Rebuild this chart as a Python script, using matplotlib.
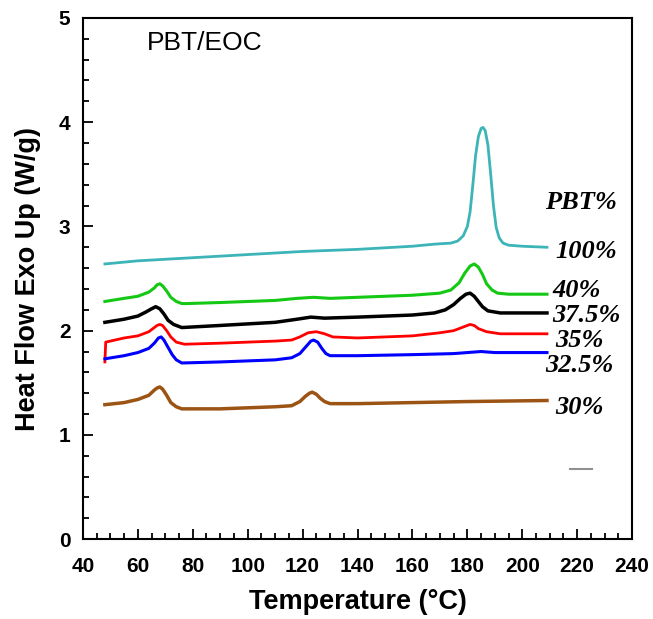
import matplotlib
matplotlib.use('Agg')
import matplotlib.pyplot as plt
from matplotlib.ticker import MultipleLocator

# DSC cooling curves (temperature in C, heat flow in W/g)
t_100 = [48, 60, 80, 100, 120, 140, 160, 168, 174, 176.5, 178.5, 180, 181, 182, 183, 184, 185, 185.7,
         186.5, 187.5, 188.5, 189.5, 190.5, 191.6, 193, 195, 200, 209]
hf_100 = [2.64, 2.67, 2.70, 2.73, 2.76, 2.78, 2.81, 2.83, 2.84, 2.86, 2.91, 3.00, 3.14, 3.40, 3.68, 3.86, 3.94, 3.95,
          3.92, 3.78, 3.50, 3.20, 2.99, 2.89, 2.84, 2.82, 2.81, 2.80]

t_40 = [48, 55, 60, 64, 66, 67, 68, 69, 70.5, 72, 74, 76, 78, 90, 110, 118, 124, 130, 140, 160, 170,
        174, 177, 179, 181, 182.5, 184, 185.5, 187, 189, 191, 195, 209]
hf_40 = [2.28, 2.31, 2.33, 2.37, 2.41, 2.44, 2.45, 2.43, 2.38, 2.32, 2.28, 2.26, 2.26, 2.27, 2.29, 2.31, 2.32,
         2.31, 2.32, 2.34, 2.36, 2.39, 2.46, 2.55, 2.62, 2.64, 2.61, 2.54, 2.45, 2.39, 2.36, 2.35, 2.35]

t_375 = [48, 55, 60, 63, 65, 66.5, 68, 69.5, 71, 73, 76, 90, 110, 118, 123, 128, 140, 160, 168, 172,
         175, 177.5, 179.5, 181, 182.5, 184, 185.5, 187.5, 192, 209]
hf_375 = [2.08, 2.11, 2.14, 2.18, 2.21, 2.23, 2.21, 2.16, 2.10, 2.06, 2.03, 2.05, 2.08, 2.11, 2.13, 2.12,
          2.13, 2.15, 2.17, 2.20, 2.25, 2.31, 2.35, 2.36, 2.33, 2.28, 2.23, 2.19, 2.17, 2.17]

t_35 = [48, 48.3, 55, 60, 64, 66, 67, 68, 69, 70.5, 72, 74, 77, 90, 110, 116, 119, 122, 125, 128, 131,
        140, 160, 170, 175, 178, 180, 181, 182.5, 184, 187, 192, 209]
hf_35 = [1.70, 1.89, 1.93, 1.95, 1.99, 2.03, 2.05, 2.06, 2.05, 2.00, 1.94, 1.89, 1.87, 1.88, 1.90, 1.91,
         1.94, 1.98, 1.99, 1.97, 1.94, 1.93, 1.95, 1.98, 2.00, 2.03, 2.05, 2.06, 2.05, 2.02, 1.99, 1.97, 1.97]

t_325 = [48, 55, 60, 64, 66, 67.5, 68.5, 69.5, 71, 72.5, 74, 76, 90, 110, 116, 119, 121, 123, 124, 125.5,
         127, 128.5, 130, 140, 160, 175, 180, 185, 190, 209]
hf_325 = [1.73, 1.76, 1.79, 1.83, 1.88, 1.93, 1.94, 1.91, 1.84, 1.77, 1.72, 1.69, 1.70, 1.72, 1.74, 1.78,
          1.84, 1.90, 1.91, 1.89, 1.83, 1.78, 1.76, 1.76, 1.77, 1.78, 1.79, 1.80, 1.79, 1.79]

t_30 = [48, 55, 60, 64, 66, 67, 68, 69, 70.5, 72, 74, 76, 90, 110, 116, 119, 121, 122.5, 123.5, 125,
        126.5, 128, 130, 140, 160, 180, 209]
hf_30 = [1.29, 1.31, 1.34, 1.38, 1.43, 1.45, 1.46, 1.44, 1.38, 1.31, 1.27, 1.25, 1.25, 1.27, 1.28, 1.32,
         1.37, 1.40, 1.41, 1.39, 1.35, 1.32, 1.30, 1.30, 1.31, 1.32, 1.33]

labels = ['100%', '40%', '37.5%', '35%', '32.5%', '30%']
label_x = [212, 211, 211, 212, 208.3, 212]
label_y = [2.78, 2.41, 2.17, 1.93, 1.69, 1.29]

# stray short grey dash in the original
dash_x = [217.4, 225.4]
dash_y = [0.67, 0.67]

fig = plt.figure(figsize=(6.53, 6.19), dpi=100)
ax = fig.add_axes([0.127, 0.129, 0.841, 0.842])

ax.plot(t_100, hf_100, color='#3cb4b8', lw=2.0)
ax.plot(t_40, hf_40, color='#14c814', lw=2.2)
ax.plot(t_375, hf_375, color='black', lw=2.5)
ax.plot(t_35, hf_35, color='#ff0000', lw=2.0)
ax.plot(t_325, hf_325, color='#0000ff', lw=2.2)
ax.plot(t_30, hf_30, color='#9c5414', lw=2.5)
ax.plot(dash_x, dash_y, color='#909090', lw=1.5)

for lab, x, y in zip(labels, label_x, label_y):
    ax.text(x, y, lab, family='Liberation Serif', weight='bold', style='italic',
            fontsize=19, ha='left', va='center_baseline')
ax.text(208.3, 3.25, 'PBT%', family='Liberation Serif', weight='bold', style='italic',
        fontsize=19, ha='left', va='center_baseline')
ax.text(63.3, 4.76, 'PBT/EOC', family='Liberation Sans', fontsize=19, ha='left', va='center')

ax.set_xlim(40, 240)
ax.set_ylim(0, 5)
ax.xaxis.set_major_locator(MultipleLocator(20))
ax.xaxis.set_minor_locator(MultipleLocator(5))
ax.yaxis.set_major_locator(MultipleLocator(1))
ax.yaxis.set_minor_locator(MultipleLocator(0.2))
ax.tick_params(which='both', direction='in', top=False, right=False, width=1.3)
ax.tick_params(which='major', length=7)
ax.tick_params(which='minor', length=4)
ax.tick_params(axis='x', pad=13)
ax.tick_params(axis='y', pad=9)
for lab in ax.get_xticklabels() + ax.get_yticklabels():
    lab.set_family('Liberation Sans')
    lab.set_fontweight('bold')
    lab.set_fontsize(15)
for sp in ax.spines.values():
    sp.set_linewidth(1.5)

ax.set_xlabel('Temperature (°C)', family='Liberation Sans', weight='bold', fontsize=19.5, labelpad=9)
ax.set_ylabel('Heat Flow Exo Up (W/g)', family='Liberation Sans', weight='bold', fontsize=19.5, labelpad=13)

fig.savefig('out.png', dpi=100)
